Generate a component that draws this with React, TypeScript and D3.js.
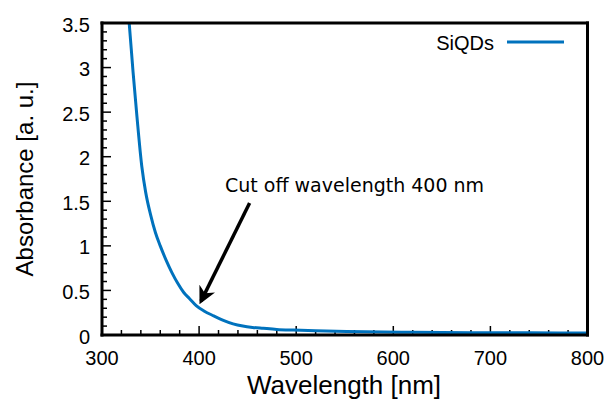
import React, { useEffect, useRef } from "react";
import * as d3 from "d3";

const wavelength = [326, 328, 332, 336, 341, 345, 350, 355, 360, 366, 372, 378, 384, 390, 397, 405, 415, 425, 435, 445, 455, 466, 480, 497, 520, 552, 590, 621, 680, 740, 800];
const absorbance = [3.75, 3.5, 2.95, 2.45, 1.89, 1.6, 1.35, 1.15, 1.0, 0.84, 0.7, 0.58, 0.48, 0.41, 0.33, 0.27, 0.215, 0.165, 0.125, 0.1, 0.085, 0.075, 0.063, 0.055, 0.047, 0.04, 0.034, 0.03, 0.026, 0.024, 0.022];
const xTicks = [300, 400, 500, 600, 700, 800];
const yTicks = [0, 0.5, 1, 1.5, 2, 2.5, 3, 3.5];
const seriesName = "SiQDs";
const noteText = "Cut off wavelength 400 nm";
const arrowFrom = [452, 1.48];
const arrowTo = [402, 0.38];

const W = 609;
const H = 400;
const plotL = 102;
const plotR = 587.5;
const plotT = 23;
const plotB = 335;
const blue = "#0072bd";
const sans = "Liberation Sans, Arial, sans-serif";

export default function App() {
  const ref = useRef<SVGGElement>(null);

  useEffect(() => {
    const g = d3.select(ref.current);
    g.selectAll("*").remove();

    const x = d3.scaleLinear().domain([300, 800]).range([plotL, plotR]);
    const y = d3.scaleLinear().domain([0, 3.5]).range([plotB, plotT]);

    const defs = g.append("defs");
    defs.append("clipPath").attr("id", "plot-clip")
      .append("rect")
      .attr("x", plotL).attr("y", plotT)
      .attr("width", plotR - plotL)
      .attr("height", plotB - plotT);

    defs.append("marker")
      .attr("id", "head")
      .attr("viewBox", "0 0 10 10")
      .attr("refX", 8).attr("refY", 5)
      .attr("markerWidth", 5).attr("markerHeight", 5)
      .attr("orient", "auto")
      .append("path").attr("d", "M0,0 L10,5 L0,10 L3,5 Z").attr("fill", "#000");

    // ticks, pointing inward
    const xMinor = d3.range(300, 801, 20);
    const yMinor = d3.range(0, 35.01, 1).map((d) => d / 10);
    g.append("g").selectAll("line").data(xMinor).join("line")
      .attr("x1", (d) => x(d)).attr("x2", (d) => x(d))
      .attr("y1", plotB).attr("y2", (d) => plotB - (d % 100 === 0 ? 9 : 5))
      .attr("stroke", "#000").attr("stroke-width", 1.5);
    g.append("g").selectAll("line").data(yMinor).join("line")
      .attr("y1", (d) => y(d)).attr("y2", (d) => y(d))
      .attr("x1", plotL)
      .attr("x2", (d) => plotL + (Math.round(d * 10) % 5 === 0 ? 9 : 5))
      .attr("stroke", "#000").attr("stroke-width", 1.5);

    // tick labels
    g.append("g").selectAll("text").data(xTicks).join("text")
      .attr("x", (d) => x(d)).attr("y", 365)
      .attr("text-anchor", "middle")
      .attr("font-family", sans)
      .attr("font-size", 20)
      .text((d) => d);
    g.append("g").selectAll("text").data(yTicks).join("text")
      .attr("x", 90).attr("y", (d) => y(d) + 8.5)
      .attr("text-anchor", "end")
      .attr("font-family", sans)
      .attr("font-size", 20)
      .text((d) => d);

    // curve
    const pts = wavelength.map((w, i) => [w, absorbance[i]] as [number, number]);
    g.append("path")
      .datum(pts)
      .attr("clip-path", "url(#plot-clip)")
      .attr("fill", "none")
      .attr("stroke", blue)
      .attr("stroke-width", 3)
      .attr("d", d3.line<[number, number]>().x((d) => x(d[0])).y((d) => y(d[1])).curve(d3.curveMonotoneX));

    // frame drawn as four filled bars
    const bw = 3;
    const bars = [
      { x: plotL - bw / 2, y: plotT - bw / 2, w: plotR - plotL + bw, h: bw },
      { x: plotL - bw / 2, y: plotB - bw / 2, w: plotR - plotL + bw, h: bw },
      { x: plotL - bw / 2, y: plotT - bw / 2, w: bw, h: plotB - plotT + bw },
      { x: plotR - bw / 2, y: plotT - bw / 2, w: bw, h: plotB - plotT + bw },
    ];
    g.append("g").selectAll("rect").data(bars).join("rect")
      .attr("x", (d) => d.x).attr("y", (d) => d.y)
      .attr("width", (d) => d.w).attr("height", (d) => d.h)
      .attr("fill", "#000");

    // legend
    g.append("text")
      .attr("x", 494).attr("y", 50)
      .attr("text-anchor", "end")
      .attr("font-family", sans)
      .attr("font-size", 20)
      .text(seriesName);
    g.append("line")
      .attr("x1", 507).attr("x2", 564).attr("y1", 42).attr("y2", 42)
      .attr("stroke", blue).attr("stroke-width", 3);

    // annotation
    g.append("text")
      .attr("x", 225).attr("y", 192)
      .attr("font-family", "DejaVu Sans, sans-serif")
      .attr("font-size", 19)
      .text(noteText);
    g.append("line")
      .attr("x1", x(arrowFrom[0])).attr("y1", y(arrowFrom[1]))
      .attr("x2", x(arrowTo[0])).attr("y2", y(arrowTo[1]))
      .attr("stroke", "#000").attr("stroke-width", 3.5)
      .attr("marker-end", "url(#head)");

    // axis titles
    g.append("text")
      .attr("x", 344).attr("y", 394)
      .attr("text-anchor", "middle")
      .attr("font-family", sans)
      .attr("font-size", 26)
      .text("Wavelength [nm]");
    g.append("text")
      .attr("transform", `translate(33,179) rotate(-90)`)
      .attr("text-anchor", "middle")
      .attr("font-family", sans)
      .attr("font-size", 24)
      .text("Absorbance [a. u.]");
  }, []);

  return (
    <svg width={W} height={H} style={{ position: "absolute", left: 0, top: 0, background: "#fff" }}>
      <g ref={ref} />
    </svg>
  );
}
